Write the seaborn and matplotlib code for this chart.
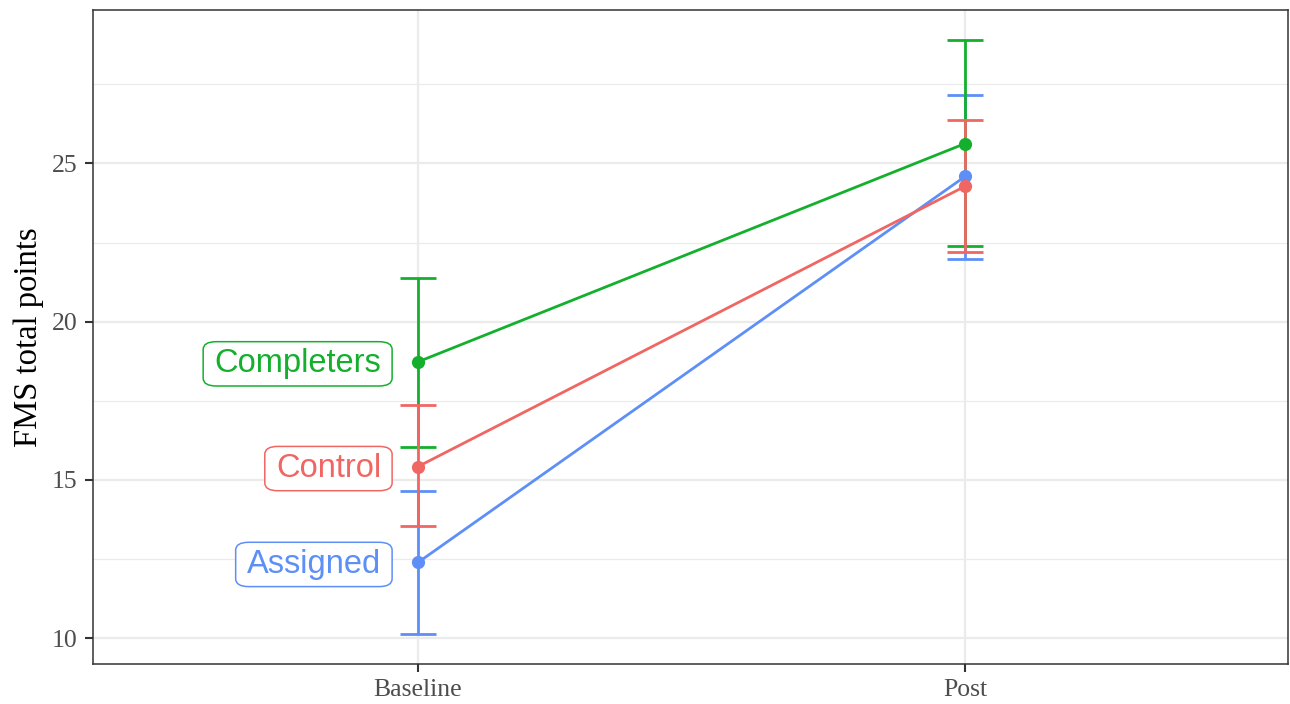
import matplotlib

matplotlib.use("Agg")
import matplotlib.pyplot as plt
import pandas as pd
import seaborn as sns
from matplotlib.ticker import MultipleLocator

# summary values
timepoints = ["Baseline", "Post"]
groups = ["Assigned", "Completers", "Control"]
group_colors = {"Control": "#F06663", "Completers": "#14B02D", "Assigned": "#5D8FF7"}

assigned_mean = [12.39, 24.59]
assigned_low = [10.12, 21.97]
assigned_high = [14.66, 27.17]

completers_mean = [18.73, 25.63]
completers_low = [16.05, 22.38]
completers_high = [21.38, 28.91]

control_mean = [15.42, 24.28]
control_low = [13.53, 22.19]
control_high = [17.37, 26.36]


def build_frame():
    rows = []
    series = {
        "Assigned": (assigned_mean, assigned_low, assigned_high),
        "Completers": (completers_mean, completers_low, completers_high),
        "Control": (control_mean, control_low, control_high),
    }
    for grp in groups:
        means, lows, highs = series[grp]
        for i, tp in enumerate(timepoints):
            rows.append({"group": grp, "time": tp, "pos": i,
                         "mean": means[i], "low": lows[i], "high": highs[i]})
    return pd.DataFrame(rows)


def main():
    df = build_frame()

    sns.set_style("white")
    plt.rcParams["font.family"] = ["Liberation Serif", "DejaVu Serif"]

    fig = plt.figure(figsize=(12.9, 7.04), dpi=100)
    ax = fig.add_axes([93 / 1290, 1 - 664 / 704, 1195 / 1290, 654 / 704])

    for grp in groups:
        sub = df[df["group"] == grp]
        ax.errorbar(sub["pos"], sub["mean"],
                    yerr=[sub["mean"] - sub["low"], sub["high"] - sub["mean"]],
                    fmt="none", ecolor=group_colors[grp], elinewidth=2.0,
                    capsize=13, capthick=2.0, zorder=3)

    sns.lineplot(data=df, x="pos", y="mean", hue="group", hue_order=groups,
                 palette=group_colors, marker="o", markersize=9.5,
                 markeredgewidth=0, linewidth=2.0, legend=False, ax=ax,
                 zorder=4)

    # labels next to the baseline points
    base = df[df["pos"] == 0]
    for _, r in base.iterrows():
        c = group_colors[r["group"]]
        ax.annotate(r["group"], xy=(0, r["mean"]), xytext=(-37, -2),
                    textcoords="offset pixels", ha="right", va="center",
                    fontsize=23.5, color=c, family=["Liberation Sans", "DejaVu Sans"],
                    bbox=dict(boxstyle="round,pad=0.34,rounding_size=0.4",
                              mutation_aspect=0.6, fc="white", ec=c, lw=1.1),
                    zorder=5)

    lo = df["low"].min()
    hi = df["high"].max()
    span = hi - lo
    ax.set_ylim(lo - 0.05 * span, hi + 0.05 * span)
    ax.set_xlim(-0.594, 1.59)

    ax.set_xticks(range(len(timepoints)))
    ax.set_xticklabels(timepoints)
    ax.yaxis.set_major_locator(MultipleLocator(5))
    ax.yaxis.set_minor_locator(MultipleLocator(2.5))

    ax.grid(True, which="major", color="#EBEBEB", linewidth=1.6, zorder=0)
    ax.grid(True, which="minor", axis="y", color="#EBEBEB", linewidth=0.9, zorder=0)
    ax.set_axisbelow(True)

    for s in ax.spines.values():
        s.set_color("#333333")
        s.set_linewidth(1.1)
        s.set_visible(True)

    ax.tick_params(axis="both", which="major", length=6, width=1.5,
                   color="#333333", labelcolor="#4D4D4D", labelsize=18.5,
                   pad=5, left=True, bottom=True)
    ax.tick_params(axis="y", which="minor", length=0)

    ax.set_xlabel("")
    ax.set_ylabel("FMS total points", fontsize=23.5, color="black", labelpad=6)

    fig.savefig("out.png", dpi=100)


if __name__ == "__main__":
    main()
